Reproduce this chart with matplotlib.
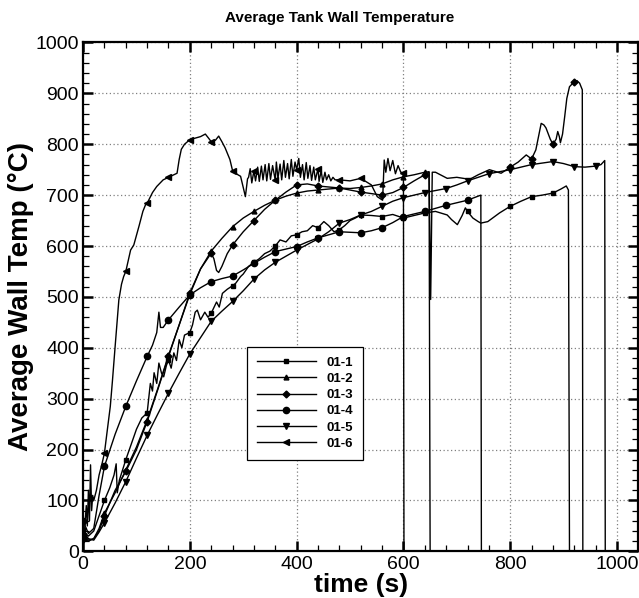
import numpy as np
import matplotlib
matplotlib.use("Agg")
import matplotlib.pyplot as plt
from matplotlib.ticker import MultipleLocator

plt.rcParams['font.family'] = ['Liberation Sans', 'DejaVu Sans']

# ---- data (time in s, temperature in degC) ----
t1 = [0, 10, 20, 30, 40, 50, 58, 62, 64, 68, 80, 90, 100, 110, 120, 126, 130, 133, 138, 142,
      147, 151, 156, 160, 165, 170, 175, 180, 185, 190, 200, 205, 210, 214, 220, 228, 234, 240,
      250, 255, 261, 270, 280, 286, 295, 300, 310, 320, 330, 340, 350, 360, 369, 380, 390, 400,
      410, 420, 430, 440, 451, 460, 470, 480, 490, 500, 510, 520, 540, 560, 580, 600, 620, 640,
      660, 682, 690, 701, 710, 716, 720, 730, 740, 745, 758, 780, 800, 820, 840, 860, 880, 895,
      905, 909, 911]
T1 = [40, 30, 40, 70, 100, 125, 150, 172, 115, 140, 180, 210, 240, 262, 272, 330, 315, 351, 330, 370,
      350, 343, 365, 376, 360, 390, 375, 416, 400, 425, 430, 445, 470, 474, 455, 470, 460, 468,
      490, 480, 507, 515, 522, 527, 540, 545, 560, 568, 575, 585, 590, 600, 612, 608, 620, 622,
      628, 630, 640, 636, 648, 640, 628, 632, 640, 650, 655, 661, 660, 658, 662, 655, 660, 665,
      668, 661, 652, 642, 660, 675, 668, 655, 648, 645, 648, 665, 678, 688, 697, 700, 704, 712,
      718, 710, 0]

t2 = [0, 10, 20, 30, 40, 60, 80, 100, 120, 140, 160, 180, 200, 220, 240, 260, 280, 300, 320,
      340, 360, 380, 400, 420, 440, 460, 480, 500, 520, 540, 560, 580, 600, 620, 640, 648, 650]
T2 = [35, 22, 25, 45, 75, 115, 160, 205, 258, 320, 385, 445, 505, 555, 590, 615, 638, 655, 668,
      680, 690, 698, 704, 708, 710, 712, 714, 713, 715, 718, 722, 730, 736, 740, 745, 746, 0]

t3 = [0, 10, 20, 30, 40, 60, 80, 100, 120, 140, 160, 180, 200, 220, 240, 245, 250, 254, 260, 270,
      280, 300, 320, 340, 360, 380, 400, 420, 440, 460, 480, 500, 520, 540, 560, 580, 600, 620,
      640, 648, 651, 654, 660, 682, 700, 724, 740, 761, 783, 800, 815, 830, 840, 848, 853, 858,
      863, 867, 875, 880, 886, 889, 892, 894, 898, 902, 906, 911, 920, 925, 930, 935, 936]
T3 = [25, 20, 25, 40, 70, 120, 157, 200, 255, 318, 383, 445, 508, 555, 586, 575, 552, 548, 560, 585,
      602, 628, 650, 672, 690, 706, 720, 722, 718, 716, 714, 710, 706, 703, 700, 705, 715, 728,
      740, 745, 495, 745, 745, 733, 735, 731, 740, 750, 743, 755, 765, 779, 771, 789, 815, 841,
      838, 832, 810, 800, 810, 825, 815, 803, 820, 854, 890, 913, 923, 925, 920, 907, 0]

t4 = [0, 10, 20, 30, 40, 60, 80, 100, 120, 130, 138, 142, 145, 150, 160, 180, 200, 220, 240, 260,
      280, 300, 320, 340, 360, 380, 400, 420, 440, 460, 480, 500, 520, 540, 560, 580, 600, 620,
      640, 660, 680, 700, 720, 740, 745, 746]
T4 = [60, 35, 45, 110, 167, 230, 285, 335, 383, 405, 430, 470, 440, 440, 455, 480, 504, 518, 530, 536,
      541, 553, 566, 578, 589, 594, 599, 608, 616, 622, 628, 627, 626, 630, 636, 646, 658, 663,
      668, 674, 680, 685, 690, 698, 700, 0]

t5 = [0, 10, 20, 30, 40, 60, 80, 100, 120, 140, 160, 180, 200, 220, 240, 260, 280, 300, 320, 340,
      360, 380, 400, 420, 440, 460, 480, 500, 520, 540, 560, 580, 600, 620, 640, 660, 680, 700,
      720, 740, 760, 780, 800, 820, 840, 860, 880, 900, 920, 940, 960, 970, 977, 978]
T5 = [40, 25, 22, 38, 56, 95, 137, 183, 228, 270, 311, 350, 388, 420, 452, 472, 491, 512, 535, 553,
      568, 580, 592, 603, 614, 628, 645, 652, 661, 668, 678, 688, 695, 700, 705, 709, 713, 720,
      728, 735, 742, 746, 750, 755, 760, 763, 766, 762, 756, 755, 757, 760, 768, 0]

t6 = [0, 3, 6, 8, 10, 12, 14, 16, 18, 20, 25, 30, 35, 40, 45, 51, 55, 60, 67, 72, 76, 80, 89, 95,
      105, 112, 117, 120, 130, 138, 150, 160, 170, 176, 180, 184, 190, 200, 210, 220, 229, 235,
      240, 248, 254, 260, 266, 275, 280, 290, 295, 300, 304, 308,
      310, 313, 316, 320, 323, 327, 330, 334, 337, 341, 344, 348, 351, 355, 360, 362, 365, 369,
      372, 376, 379, 383, 386, 390, 393, 397, 400, 404, 407, 411, 414, 418, 421, 425, 428, 432,
      435, 440, 442, 446, 449, 453, 456, 460, 464, 468, 472,
      480, 500, 520, 540, 551, 561, 564, 567, 571, 575, 580, 585, 590, 595, 600, 601]
T6 = [30, 45, 90, 50, 120, 60, 170, 80, 110, 100, 120, 150, 170, 193, 235, 285, 335, 402, 494, 525,
      540, 550, 592, 602, 640, 668, 681, 684, 705, 717, 730, 735, 740, 743, 770, 790, 800, 809,
      812, 815, 820, 812, 805, 808, 816, 805, 793, 770, 748, 740, 737, 715, 697, 732,
      735, 752, 724, 748, 728, 755, 727, 757, 730, 760, 728, 762, 731, 758, 729, 765, 733, 761,
      730, 768, 735, 762, 732, 770, 737, 765, 750, 772, 735, 760, 730, 764, 733, 758, 729, 755,
      730, 752, 727, 748, 725, 745, 730, 740, 728, 735, 730,
      730, 728, 733, 720, 697, 690, 769, 745, 772, 748, 768, 742, 758, 745, 744, 0]

labels = ['01-1', '01-2', '01-3', '01-4', '01-5', '01-6']
markers = ['s', '^', 'D', 'o', 'v', '<']
msizes = [2.5, 3.5, 3.5, 4.5, 4, 4]
series = [(t1, T1), (t2, T2), (t3, T3), (t4, T4), (t5, T5), (t6, T6)]

fig = plt.figure(figsize=(6.39, 5.98), dpi=100)
ax = fig.add_axes([0.130, 0.078, 0.869, 0.851])

for (t, T), lab, m, ms in zip(series, labels, markers, msizes):
    t = np.array(t)
    T = np.array(T)
    # markers every 40 s, like the original plot
    idx = list(np.where((t % 40 == 0) & (T > 0))[0])
    ax.plot(t, T, color='black', lw=1.0, marker=m, ms=ms, markevery=idx,
            markerfacecolor='black', markeredgecolor='black', label=lab)

ax.set_xlim(0, 1040)
ax.set_ylim(0, 1000)
ax.xaxis.set_major_locator(MultipleLocator(200))
ax.xaxis.set_minor_locator(MultipleLocator(40))
ax.yaxis.set_major_locator(MultipleLocator(100))
ax.yaxis.set_minor_locator(MultipleLocator(20))
ax.tick_params(which='both', direction='in', top=True, right=True, labelsize=14, pad=3)
ax.tick_params(which='major', length=7, width=1.8)
ax.tick_params(which='minor', length=4.5, width=0.9)
for s in ax.spines.values():
    s.set_linewidth(1.6)

ax.grid(True, which='major', linestyle=(0, (1, 2)), color='gray', lw=0.9)

ax.set_xlabel('time (s)', fontsize=19, fontweight='bold', labelpad=0)
ax.set_ylabel('Average Wall Temp (\u00b0C)', fontsize=20, fontweight='bold', labelpad=1)
fig.text(0.532, 0.970, 'Average Tank Wall Temperature', fontsize=11, fontweight='bold',
         ha='center', va='center')

leg = ax.legend(loc='upper left', bbox_to_anchor=(0.295, 0.402), borderaxespad=0,
                fancybox=False, edgecolor='black', framealpha=1, handlelength=4.5,
                prop={'weight': 'bold', 'size': 9.5}, labelspacing=0.3, borderpad=0.75,
                handletextpad=0.75)
leg.get_frame().set_linewidth(0.9)

fig.savefig('out.png', dpi=100)
